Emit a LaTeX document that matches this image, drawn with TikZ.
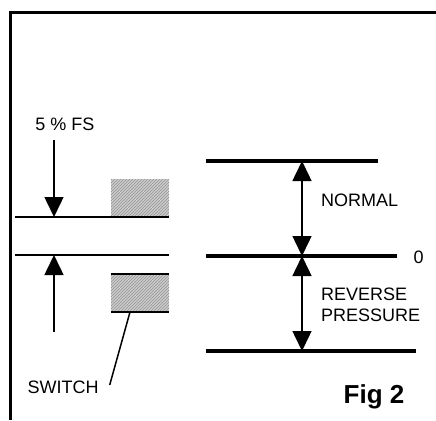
\documentclass[tikz,border=0pt]{standalone}
\usepackage{fontspec}
\setmainfont{Liberation Sans}
\usetikzlibrary{arrows.meta,patterns}
\begin{document}
\begin{tikzpicture}[x=1pt,y=-1pt,
  lbl/.style={font=\fontsize{18}{21}\selectfont,inner sep=0pt},
  dim/.style={line width=1.5pt,-{Triangle[length=20pt,width=19pt]}},
  level/.style={line width=3.2pt},
  thin/.style={line width=2pt},
  hatch/.style={fill=gray!40,postaction={pattern=north east lines,pattern color=gray!85}}]
\useasboundingbox (0,0) rectangle (436,420);
\draw[line width=3pt] (436,12.5) -| (10.5,420);
% switch band
\fill[hatch] (111,179) rectangle (169,217);
\fill[hatch] (111,274) rectangle (169,312);
\draw[thin] (15,217) -- (169,217);
\draw[thin] (15,255) -- (169,255);
\draw[thin] (111,274) -- (169,274);
\draw[thin] (111,312) -- (169,312);
\node[lbl] (fs) at (65,124) {5 \% FS};
\coordinate (fstop) at (54,140);
\coordinate (fsup) at (54,217);
\coordinate (fslo) at (54,255);
\coordinate (fsbot) at (54,332);
\draw[dim] (fstop) -- (fsup);
\draw[dim] (fsbot) -- (fslo);
\node[lbl] (sw) at (63,387) {SWITCH};
\coordinate (swtip) at (130,312);
\draw[line width=1.5pt] ([xshift=11pt,yshift=2pt]sw.east) -- (swtip);
% pressure levels
\coordinate (norm) at (302,161);
\coordinate (zero) at (302,256);
\coordinate (rev) at (302,351);
\draw[level] (206,161) -- (378,161);
\draw[level] (206,256) -- (397,256);
\draw[level] (206,351) -- (416,351);
\draw[dim,{Triangle[length=20pt,width=19pt]}-{Triangle[length=20pt,width=19pt]}] (norm) -- (zero);
\draw[dim,{Triangle[length=20pt,width=19pt]}-{Triangle[length=20pt,width=19pt]}] (zero) -- (rev);
\node[lbl,anchor=west] (nl) at (321,200) {NORMAL};
\node[lbl] (zl) at (418.5,257) {0};
\node[lbl,anchor=west,align=left] (rl) at (321,305) {REVERSE\\PRESSURE};
\node[font=\fontsize{26}{30}\selectfont\bfseries,inner sep=0pt] (fig) at (374,397) {Fig 2};
\end{tikzpicture}
\end{document}
